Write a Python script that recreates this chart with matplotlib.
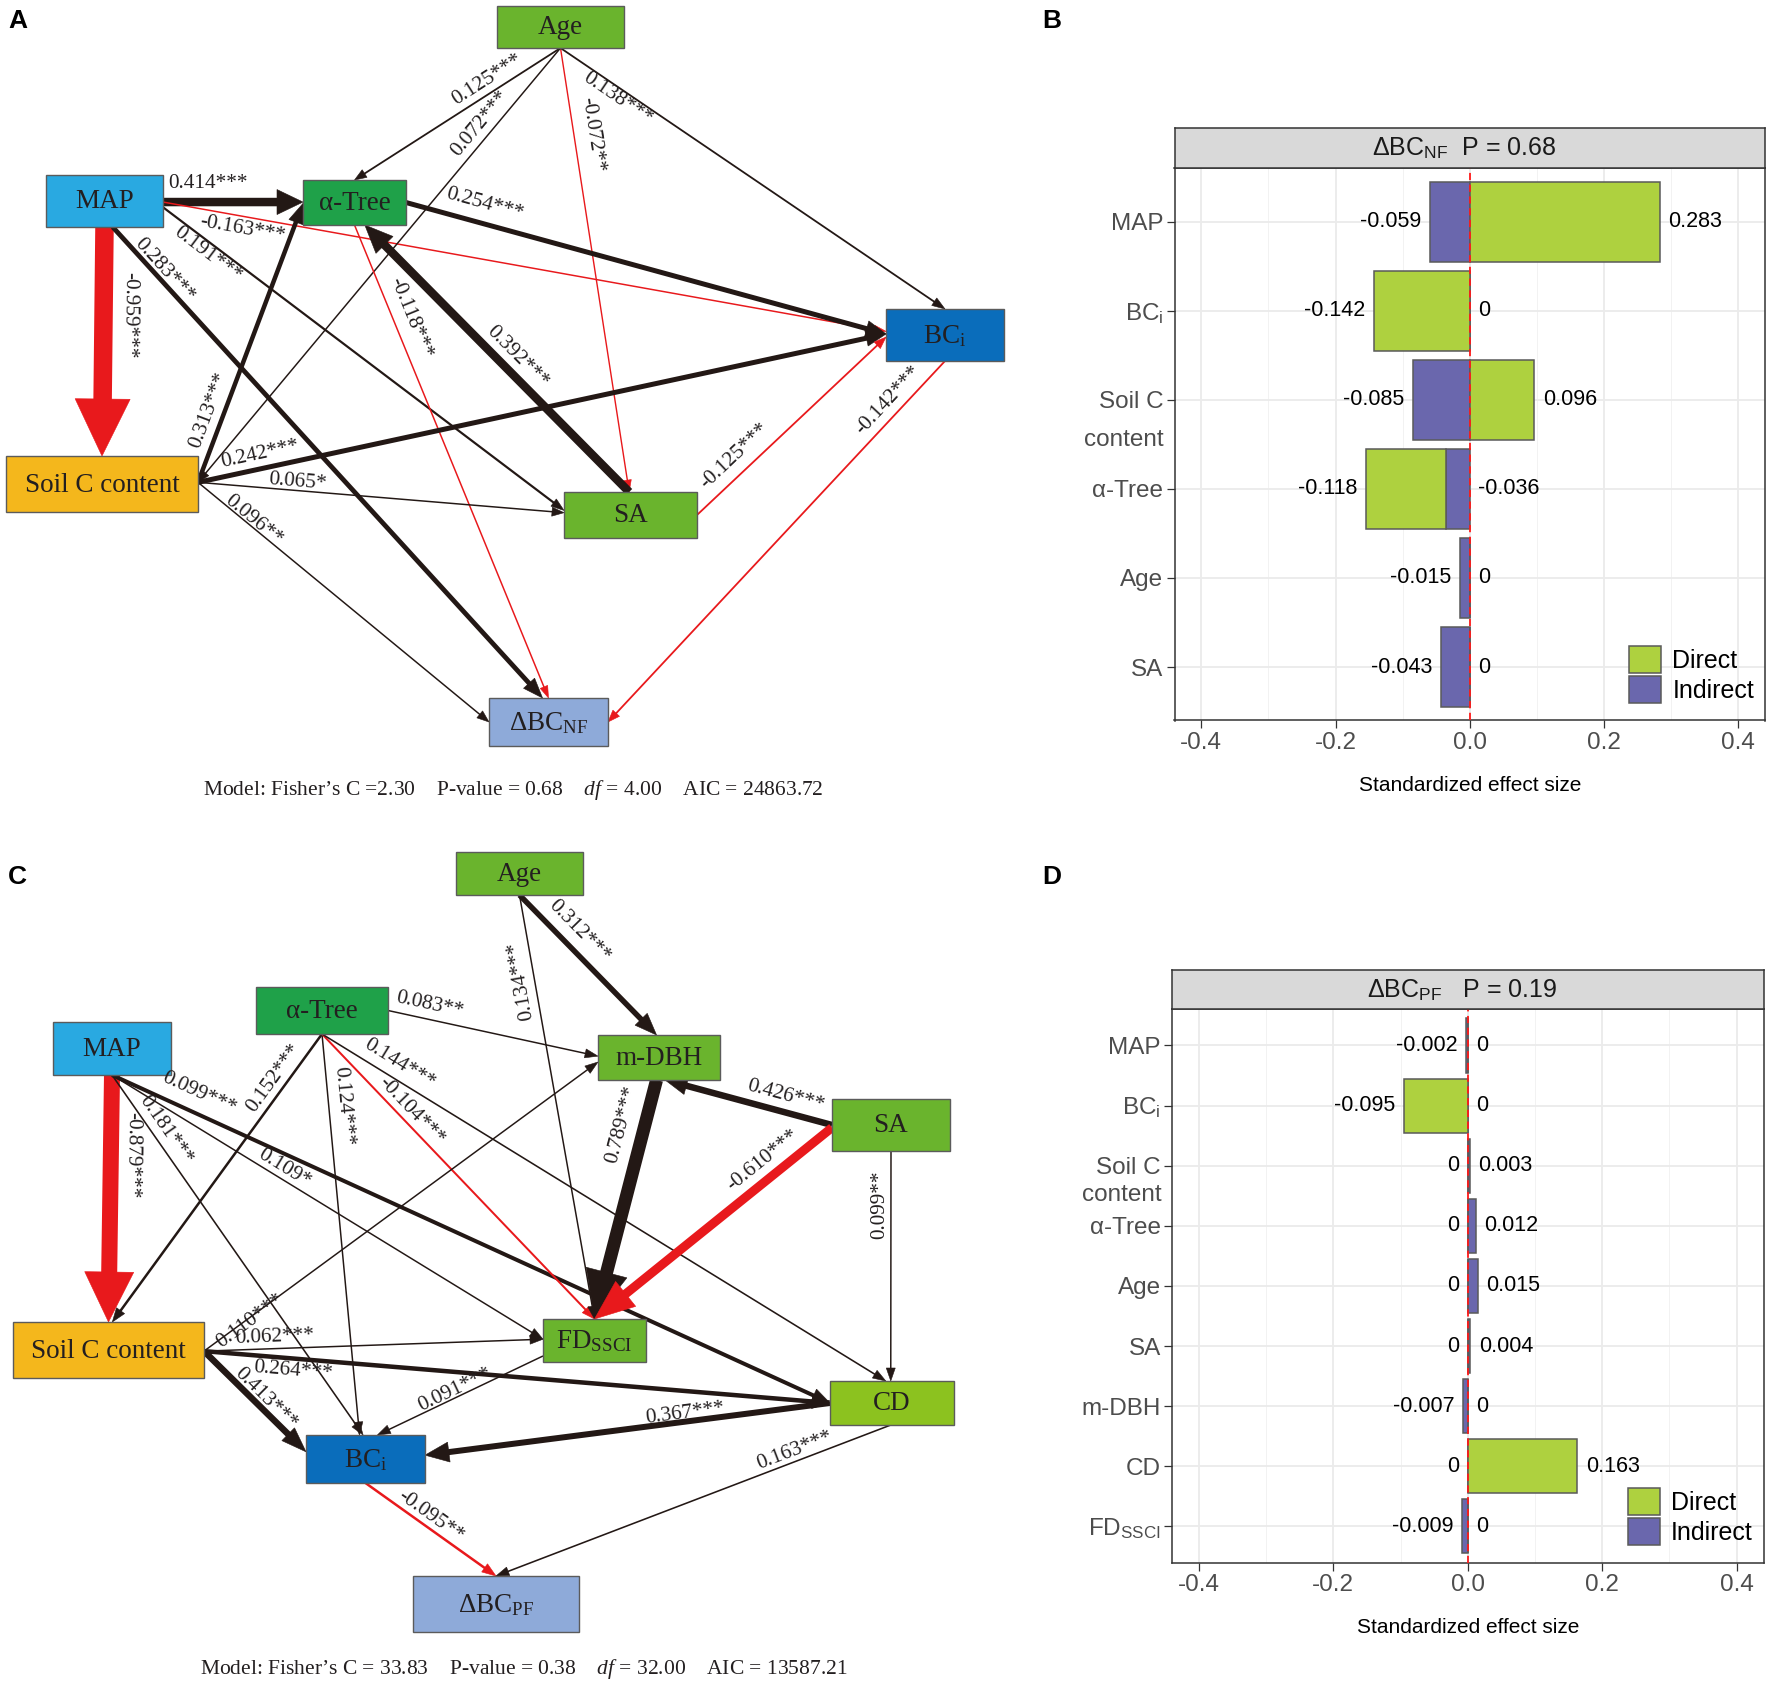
import numpy as np
import matplotlib
matplotlib.use("Agg")
import matplotlib.pyplot as plt
from matplotlib.patches import Rectangle, Polygon, Patch
import matplotlib.transforms as mtransforms

plt.rcParams.update({
    "font.family": ["Liberation Sans", "DejaVu Sans"],
    "mathtext.fontset": "custom",
    "mathtext.rm": "Liberation Serif",
    "mathtext.it": "Liberation Serif:italic",
    "mathtext.bf": "Liberation Serif:bold",
    "mathtext.sf": "Liberation Sans",
})

# ============================ DATA ============================
# Panel A : path model for ΔBC_NF
A_from = ["MAP", "MAP", "MAP", "MAP", "MAP", "Age", "Age", "Age", "Age",
          "aTree", "aTree", "SA", "Soil", "Soil", "Soil", "Soil", "SA", "BCi"]
A_to = ["aTree", "Soil", "BCi", "SA", "dBC", "aTree", "SA", "BCi", "Soil",
        "BCi", "dBC", "aTree", "aTree", "BCi", "SA", "dBC", "BCi", "dBC"]
A_coef = [0.414, -0.959, -0.163, 0.191, 0.283, 0.125, -0.072, 0.138, 0.072,
          0.254, -0.118, 0.392, 0.313, 0.242, 0.065, 0.096, -0.125, -0.142]
A_sig = ["***", "***", "***", "***", "***", "***", "**", "***", "***",
         "***", "***", "***", "***", "***", "*", "**", "***", "***"]
A_model = "Model: Fisher\u2019s C =2.30    P-value = 0.68    $\\mathit{df}$ = 4.00    AIC = 24863.72"

# Panel C : path model for ΔBC_PF
C_from = ["MAP", "aTree", "MAP", "MAP", "MAP", "aTree", "aTree", "aTree", "aTree",
          "Age", "Age", "mDBH", "SA", "SA", "SA", "Soil", "Soil", "Soil", "Soil",
          "FD", "CD", "CD", "BCi"]
C_to = ["Soil", "Soil", "CD", "FD", "BCi", "BCi", "FD", "CD", "mDBH",
        "mDBH", "FD", "FD", "mDBH", "FD", "CD", "mDBH", "FD", "CD", "BCi",
        "BCi", "BCi", "dBC", "dBC"]
C_coef = [-0.879, 0.152, 0.099, 0.109, 0.181, 0.124, -0.104, 0.144, 0.083,
          0.312, 0.134, 0.789, 0.426, -0.610, 0.099, 0.110, 0.062, 0.264, 0.413,
          0.091, 0.367, 0.163, -0.095]
C_sig = ["***", "***", "***", "*", "***", "***", "***", "***", "**",
         "***", "***", "***", "***", "***", "**", "***", "***", "***", "***",
         "***", "***", "***", "**"]
C_model = "Model: Fisher\u2019s C = 33.83    P-value = 0.38    $\\mathit{df}$ = 32.00    AIC = 13587.21"

# Panel B : standardized effects on ΔBC_NF
B_labels = ["MAP", r"BC$_{\mathsf{i}}$", "Soil C\ncontent", "\u03b1-Tree", "Age", "SA"]
B_direct = [0.283, -0.142, 0.096, -0.118, 0.0, 0.0]
B_indirect = [-0.059, 0.0, -0.085, -0.036, -0.015, -0.043]
B_title = "\u0394BC$_{\\mathsf{NF}}$  P = 0.68"

# Panel D : standardized effects on ΔBC_PF
D_labels = ["MAP", r"BC$_{\mathsf{i}}$", "Soil C\ncontent", "\u03b1-Tree", "Age", "SA",
            "m-DBH", "CD", r"FD$_{\mathsf{SSCI}}$"]
D_direct = [0.0, -0.095, 0.0, 0.0, 0.0, 0.0, 0.0, 0.163, 0.0]
D_indirect = [-0.002, 0.0, 0.003, 0.012, 0.015, 0.004, -0.007, 0.0, -0.009]
D_title = "\u0394BC$_{\\mathsf{PF}}$   P = 0.19"

# ============================ LAYOUT / STYLE ============================
W, H = 1772, 1686
LG, DG, BLUE_L, SOILC, BLUE_D, PERI, CDC = ("#6ab42d", "#1fa149", "#29a9e1",
                                            "#f4b71c", "#0a6dbb", "#8eaad9", "#8cc21f")
RED, BLK, TXT = "#e8191c", "#231815", "#231f20"
GREEN, PURPLE, BAR_EDGE = "#aed13f", "#6a67ad", "#5a5a5a"

node_text = {"MAP": "MAP", "Age": "Age", "aTree": "\u03b1-Tree", "Soil": "Soil C content",
             "SA": "SA", "BCi": r"BC$_{\mathrm{i}}$", "dBC_A": "\u0394BC$_{\\mathrm{NF}}$",
             "dBC_C": "\u0394BC$_{\\mathrm{PF}}$", "mDBH": "m-DBH", "CD": "CD",
             "FD": "FD$_{\\mathrm{SSCI}}$"}
node_color = {"MAP": BLUE_L, "Age": LG, "aTree": DG, "Soil": SOILC, "SA": LG,
              "BCi": BLUE_D, "dBC": PERI, "mDBH": LG, "CD": CDC, "FD": LG}

A_boxes = {"Age": (497, 6, 624, 48), "MAP": (46, 175, 163, 227),
           "aTree": (303, 180, 406, 225), "Soil": (6, 456, 198, 512),
           "SA": (564, 492, 697, 538), "BCi": (886, 309, 1004, 361),
           "dBC": (489, 698, 608, 746)}
C_boxes = {"Age": (456, 852, 583, 895), "aTree": (256, 987, 388, 1034),
           "MAP": (53, 1022, 171, 1075), "mDBH": (598, 1035, 720, 1080),
           "SA": (832, 1099, 950, 1151), "Soil": (13, 1322, 204, 1378),
           "FD": (543, 1319, 646, 1362), "CD": (830, 1381, 954, 1425),
           "BCi": (306, 1435, 425, 1483), "dBC": (413, 1576, 579, 1632)}

# (src fx, src fy, dst fx, dst fy, width px, head len, head wid, label x, label y, flip)
A_style = [
    (1.00, .52, 0.00, .49, 8.5, 26, 25, 208, 184, False),
    (0.50, 1.0, 0.50, 0.0, 18.5, 57, 55, 129, 315, True),
    (1.00, .52, 0.00, .43, 1.5, 12, 8, 243, 229, False),
    (1.00, .62, 0.00, .40, 2.2, 13, 9, 208, 254, False),
    (0.57, 1.0, 0.45, 0.0, 4.8, 20, 15, 164, 270, False),
    (0.50, 1.0, 0.50, 0.0, 1.8, 12, 9, 487, 80, False),
    (0.50, 1.0, 0.49, 0.0, 1.4, 12, 8, 592, 135, False),
    (0.50, 1.0, 0.50, 0.0, 1.8, 13, 9, 618, 99, False),
    (0.50, 1.0, 1.00, .47, 1.5, 12, 8, 480, 124, False),
    (1.00, .50, 0.00, .48, 5.0, 20, 16, 485, 204, False),
    (0.50, 1.0, 0.50, 0.0, 1.5, 12, 8, 411, 318, False),
    (0.49, 0.0, 0.60, 1.0, 8.5, 28, 24, 517, 357, False),
    (1.00, .47, 0.00, .52, 4.5, 20, 15, 209, 410, False),
    (1.00, .47, 0.00, .48, 5.0, 20, 16, 260, 454, False),
    (1.00, .47, 0.00, .45, 1.5, 12, 9, 298, 482, False),
    (1.00, .47, 0.00, .50, 1.5, 12, 9, 254, 520, False),
    (1.00, .50, 0.00, .54, 1.8, 12, 9, 735, 456, False),
    (0.50, 1.0, 1.00, .50, 1.8, 12, 9, 888, 400, False),
]
C_style = [
    (0.50, 1.0, 0.50, 0.0, 16.0, 50, 49, 132, 1155, True),
    (0.50, 1.0, 0.52, 0.0, 2.5, 14, 10, 274, 1078, False),
    (0.50, 1.0, 0.00, .50, 4.0, 18, 14, 199, 1093, False),
    (0.50, 1.0, 0.00, .47, 1.5, 13, 9, 284, 1168, False),
    (0.50, 1.0, 0.48, 0.0, 1.6, 13, 9, 166, 1130, False),
    (0.50, 1.0, 0.45, 0.0, 1.5, 13, 9, 343, 1106, False),
    (0.50, 1.0, 0.50, 0.0, 2.0, 13, 9, 411, 1111, False),
    (0.50, 1.0, 0.45, 0.0, 1.6, 13, 9, 399, 1064, False),
    (1.00, .50, 0.00, .47, 1.5, 13, 9, 430, 1005, False),
    (0.50, 1.0, 0.48, 0.0, 5.5, 22, 17, 579, 931, False),
    (0.50, 1.0, 0.50, 0.0, 1.5, 13, 9, 521, 981, True),
    (0.48, 1.0, 0.50, 0.0, 13.0, 48, 42, 622, 1125, False),
    (0.00, .50, 0.55, 1.0, 6.5, 22, 18, 786, 1096, False),
    (0.00, .55, 0.50, 0.0, 9.0, 40, 32, 763, 1160, False),
    (0.50, 1.0, 0.49, 0.0, 1.5, 13, 9, 880, 1205, False),
    (1.00, .52, 0.00, .60, 1.5, 13, 9, 250, 1321, False),
    (1.00, .52, 0.00, .47, 1.5, 13, 9, 275, 1337, False),
    (1.00, .52, 0.00, .50, 4.5, 18, 14, 293, 1371, False),
    (1.00, .52, 0.00, .35, 6.5, 25, 18, 266, 1399, False),
    (0.00, .86, 0.60, 0.0, 1.5, 13, 9, 455, 1390, False),
    (0.00, .50, 1.00, .42, 6.0, 24, 20, 685, 1413, False),
    (0.49, 1.0, 0.50, 0.0, 1.6, 13, 9, 795, 1451, False),
    (0.50, 1.0, 0.50, 0.0, 2.5, 14, 10, 431, 1516, False),
]

fig = plt.figure(figsize=(W / 100, H / 100), dpi=100)
fig.patch.set_facecolor("white")
dg = fig.add_axes([0, 0, 1, 1])
dg.set_xlim(0, W)
dg.set_ylim(H, 0)
dg.axis("off")


def anchor(box, fx, fy):
    x0, y0, x1, y1 = box
    return np.array([x0 + fx * (x1 - x0), y0 + fy * (y1 - y0)], float)


def draw_arrow(p0, p1, w, hl, hw, color):
    d = p1 - p0
    u = d / np.hypot(*d)
    n = np.array([-u[1], u[0]])
    base = p1 - u * hl
    send = p1 - u * hl * 0.8
    dg.plot([p0[0], send[0]], [p0[1], send[1]], color=color, lw=w * 0.72,
            solid_capstyle="butt", zorder=3)
    dg.add_patch(Polygon([p1, base + n * hw / 2, base - n * hw / 2], closed=True,
                         fc=color, ec=color, lw=0.4, zorder=3))


def draw_model(boxes, dkey, frm, to, coef, sig, style, model_txt, model_xy):
    for k, b in boxes.items():
        x0, y0, x1, y1 = b
        dg.add_patch(Rectangle((x0, y0), x1 - x0, y1 - y0, fc=node_color[k],
                               ec="#5b5b5b", lw=1.0, zorder=5))
        key = dkey if k == "dBC" else k
        dg.text((x0 + x1) / 2, (y0 + y1) / 2 + 1, node_text[key], ha="center", va="center",
                family=["Liberation Serif", "DejaVu Serif"], fontsize=19.5, color=TXT, zorder=6)
    for f, t, c, s, st in zip(frm, to, coef, sig, style):
        sfx, sfy, tfx, tfy, w, hl, hw, lx, ly, flip = st
        p0 = anchor(boxes[f], sfx, sfy)
        p1 = anchor(boxes[t], tfx, tfy)
        col = RED if c < 0 else BLK
        draw_arrow(p0, p1, w, hl, hw, col)
        ang = np.degrees(np.arctan2(-(p1[1] - p0[1]), p1[0] - p0[0]))
        if ang > 90:
            ang -= 180
        if ang <= -90:
            ang += 180
        if flip:
            ang += 180
        dg.text(lx, ly, f"{c:.3f}{s}", rotation=ang, rotation_mode="anchor",
                ha="center", va="center", family=["Liberation Serif", "DejaVu Serif"],
                fontsize=15.3, color=TXT, zorder=6)
    dg.text(model_xy[0], model_xy[1], model_txt, ha="left", va="center",
            family=["Liberation Serif", "DejaVu Serif"], fontsize=15.5, color=TXT)


draw_model(A_boxes, "dBC_A", A_from, A_to, A_coef, A_sig, A_style, A_model, (203, 790))
draw_model(C_boxes, "dBC_C", C_from, C_to, C_coef, C_sig, C_style, C_model, (200, 1669))

for lab, (x, y) in zip("ABCD", [(8, 9), (1042, 9), (8, 865), (1042, 865)]):
    dg.text(x, y, lab, ha="left", va="top", fontsize=19, fontweight="bold",
            family=["Liberation Sans", "DejaVu Sans"], color="black")


def px_rect(x0, y0, x1, y1):
    return [x0 / W, 1 - y1 / H, (x1 - x0) / W, (y1 - y0) / H]


def fmt(v):
    return "0" if v == 0 else f"{v:.3f}"


def effect_panel(rect, strip, labels, direct, indirect, title, content_dy):
    ax = fig.add_axes(px_rect(*rect))
    n = len(labels)
    y = np.arange(n)
    direct = np.asarray(direct, float)
    indirect = np.asarray(indirect, float)
    same = np.sign(direct) == np.sign(indirect)
    ax.barh(y, indirect, height=0.9, color=PURPLE, edgecolor=BAR_EDGE, linewidth=1.1, zorder=3)
    ax.barh(y, direct, left=np.where(same, indirect, 0.0), height=0.9, color=GREEN,
            edgecolor=BAR_EDGE, linewidth=1.1, zorder=3)
    ax.axvline(0, color="#ff1a1a", lw=1.3, ls=(0, (4, 2.5)), zorder=4)
    neg_end = np.minimum(0, np.where(direct < 0, direct, 0) + np.where(indirect < 0, indirect, 0))
    pos_end = np.maximum(0, np.where(direct > 0, direct, 0) + np.where(indirect > 0, indirect, 0))
    lo = np.minimum(direct, indirect)
    hi = np.maximum(direct, indirect)
    pad = 0.013
    for i in range(n):
        ax.text(neg_end[i] - pad, y[i], fmt(lo[i]), ha="right", va="center",
                fontsize=15.5, color="black", zorder=5)
        ax.text(pos_end[i] + pad, y[i], fmt(hi[i]), ha="left", va="center",
                fontsize=15.5, color="black", zorder=5)
    ax.set_xlim(-0.44, 0.44)
    ax.set_ylim(n - 0.4, -0.6)
    ax.set_xticks([-0.4, -0.2, 0.0, 0.2, 0.4])
    ax.set_xticklabels(["-0.4", "-0.2", "0.0", "0.2", "0.4"])
    ax.set_xticks([-0.3, -0.1, 0.1, 0.3], minor=True)
    ax.set_yticks(y)
    ax.set_yticklabels([l.split("\n")[0] for l in labels])
    ax.tick_params(which="major", length=6, width=0.9, color="#333333", labelsize=17.5,
                   labelcolor="#4d4d4d", pad=2)
    ax.tick_params(which="minor", length=0)
    ax.grid(True, which="major", color="#ebebeb", lw=1.3)
    ax.grid(True, which="minor", axis="x", color="#f2f2f2", lw=0.7)
    ax.set_axisbelow(True)
    for sp in ax.spines.values():
        sp.set_color("#333333")
        sp.set_linewidth(1.1)
    # second line of multi-line tick labels
    tr = mtransforms.blended_transform_factory(ax.transAxes, ax.transData)
    for i, l in enumerate(labels):
        parts = l.split("\n")
        if len(parts) > 1:
            off = mtransforms.ScaledTranslation(-10.8 / 100, -content_dy / 100, fig.dpi_scale_trans)
            ax.text(0, y[i], parts[1], ha="right", va="center", fontsize=17.5,
                    color="#4d4d4d", transform=tr + off)
    ax.set_xlabel("Standardized effect size", fontsize=15, color="black")
    hpx = rect[3] - rect[1]
    ax.xaxis.set_label_coords(0.5, -(65.0 / hpx))
    ax.xaxis.label.set_va("center")
    ax.legend(handles=[Patch(fc=GREEN, ec=BAR_EDGE, lw=1.1, label="Direct"),
                       Patch(fc=PURPLE, ec=BAR_EDGE, lw=1.1, label="Indirect")],
              loc="lower right", bbox_to_anchor=(1.007, 0.004), frameon=False,
              fontsize=18, handlelength=1.28, handleheight=1.28, handletextpad=0.45,
              labelspacing=0.12, borderaxespad=0.3, borderpad=0.3)
    sax = fig.add_axes(px_rect(*strip))
    sax.set_facecolor("#d9d9d9")
    sax.set_xticks([])
    sax.set_yticks([])
    for sp in sax.spines.values():
        sp.set_color("#333333")
        sp.set_linewidth(1.1)
    sax.text(0.49, 0.5, title, ha="center", va="center", fontsize=18, color="#1a1a1a",
             transform=sax.transAxes)
    return ax


effect_panel((1174.5, 168.3, 1765, 720.5), (1174.5, 127.7, 1765, 168.3),
             B_labels, B_direct, B_indirect, B_title, 40)
effect_panel((1172, 1009.4, 1763.6, 1562.5), (1172, 970, 1763.6, 1009.4),
             D_labels, D_direct, D_indirect, D_title, 29.5)

fig.savefig("out.png", dpi=100)
